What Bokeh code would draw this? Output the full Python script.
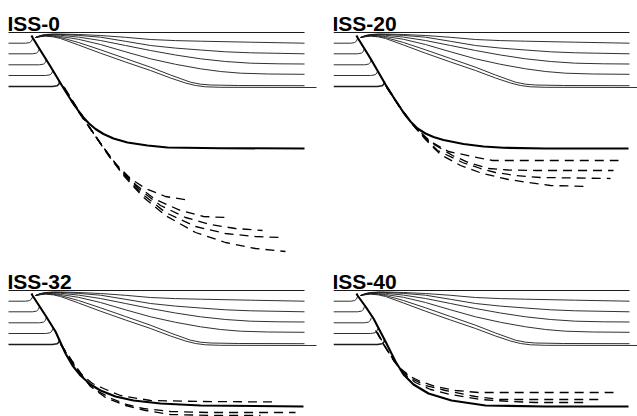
from bokeh.plotting import figure
from bokeh.layouts import column, row
from bokeh.models import Range1d
from bokeh.embed import file_html
from bokeh.resources import INLINE
from bokeh.core.properties import value

# ---- data: (distance, depth) pairs, depth grows downward ----
titles = ["ISS-0", "ISS-20", "ISS-32", "ISS-40"]

surface = [(0, 0), (296, 0)]

stub_1 = [(0, 10.7), (17, 10.7), (21, 10.1), (23, 8.6), (24.3, 5.5)]
stub_2 = [(0, 21.3), (24, 21.3), (28, 20.6), (30, 18.8), (30.9, 16)]
stub_3 = [(0, 32.3), (31, 32.3), (35, 31.6), (37, 29.8), (37.7, 27.3)]
stub_4 = [(0, 43), (37, 43), (41.5, 42.3), (43.5, 40.5), (44.2, 38)]
stub_5 = [(0, 54), (44, 54), (48.5, 53.3), (50.5, 51.5), (51, 49)]

flow_1 = [(27, 5), (32, 3), (37, 2), (45, 1.5), (52, 1.5), (70, 2), (92, 3), (117, 4.8),
          (142, 7), (167, 8.1), (192, 8.7), (242, 9.7), (296, 10.7)]
flow_2 = [(27, 5), (32, 3.2), (37, 2.3), (45, 1.8), (52, 2), (70, 2.9), (92, 4.7), (117, 8.8),
          (142, 13), (167, 15.6), (192, 17.5), (217, 19.3), (242, 20.3), (296, 21.3)]
flow_3 = [(27, 5), (32, 3.4), (37, 2.6), (45, 2.3), (52, 2.8), (70, 4.6), (92, 8), (117, 13),
          (142, 18), (167, 22.5), (192, 26.3), (217, 29), (242, 30.7), (270, 31.3), (296, 31.5)]
flow_4 = [(27, 5), (32, 3.7), (37, 3), (45, 3.1), (52, 4), (70, 6.8), (92, 12), (117, 19.3),
          (142, 26.3), (167, 31.8), (192, 36.3), (212, 39), (232, 40.7), (260, 41.5), (296, 41.8)]
flow_5 = [(27, 5), (32, 4), (37, 3.3), (45, 3.7), (52, 5), (70, 10), (92, 17.3), (117, 26),
          (142, 34.7), (162, 42.5), (182, 49.7), (192, 51.7), (202, 52.5), (230, 53), (296, 53.2)]
flow_6 = [(27, 5), (32, 4.2), (37, 3.6), (45, 4.4), (52, 6), (70, 12.5), (92, 20.7), (117, 29.5),
          (142, 38), (162, 45.5), (177, 50.5), (187, 53), (197, 54.3), (212, 54.8), (308, 55)]

# thick line per panel
thick_0 = [(23, 3), (24, 5), (32, 18), (42, 34), (54, 54), (64, 70), (70, 78.5), (75, 85), (80, 90.5),
           (87, 96.5), (95, 101.5), (105, 106), (119, 110), (139, 113), (159, 115), (212, 115.7), (296, 116)]
thick_20 = [(23, 3), (24, 5), (37, 26), (52, 52), (62, 68), (70, 80), (77, 89), (84, 96), (92, 101),
            (100, 104.5), (110, 107.5), (130, 111.5), (150, 114), (170, 115.3), (212, 116), (295, 116)]
thick_32 = [(23, 3), (24, 5), (37, 25), (47, 41), (57, 63), (64, 75), (72, 85), (82, 94), (92, 100),
            (107, 106), (125, 110), (152, 113), (192, 115), (295, 116)]
thick_40 = [(23, 3), (24, 5), (32, 16), (40, 28), (52, 51), (62, 71), (70, 84), (80, 94), (95, 103),
            (118, 110), (152, 115), (212, 116), (295, 116)]

# dashed lines per panel
dash_0_a = [(54, 54), (67, 75), (80, 94), (92, 111), (107, 131), (122, 146), (137, 156), (157, 164), (182, 168)]
dash_0_b = [(55, 54), (68, 76), (82, 96), (95, 115), (110, 135), (127, 152), (147, 167), (172, 178), (195, 184), (217, 185)]
dash_0_c = [(55, 55), (69, 77), (83, 98), (97, 118), (112, 138), (130, 156), (152, 173), (177, 185), (202, 192), (227, 196), (254, 198)]
dash_0_d = [(56, 55), (70, 78), (84, 99), (98, 120), (114, 141), (132, 160), (157, 180), (187, 194), (217, 201), (247, 204), (272, 205)]
dash_0_e = [(56, 56), (71, 79), (85, 101), (100, 123), (116, 144), (134, 164), (157, 183), (187, 200), (217, 210), (247, 216), (277, 219)]

dash_20_a = [(52, 53), (64, 71), (74, 86), (84, 97), (97, 109), (115, 119), (139, 124), (159, 128), (192, 128), (285, 128)]
dash_20_b = [(53, 54), (65, 73), (76, 88), (87, 101), (99, 111), (119, 123), (135, 130), (155, 136), (175, 137.5), (202, 138), (280, 138)]
dash_20_c = [(53, 55), (66, 74), (78, 90), (90, 104), (104, 118), (129, 130), (147, 136), (162, 140), (182, 143), (207, 145), (277, 146)]
dash_20_d = [(54, 55), (67, 75), (79, 92), (92, 107), (107, 122), (127, 133), (149, 141), (175, 147), (195, 150), (217, 153), (255, 154)]

dash_32_a = [(52, 53), (64, 71), (74, 85), (84, 93), (95, 98), (112, 105), (142, 110), (192, 111), (269, 111.5)]
dash_32_b = [(52, 54), (66, 75), (78, 91), (90, 101), (103, 108), (118, 114), (135, 118), (162, 121), (200, 122), (287, 122)]
dash_32_c = [(53, 55), (68, 78), (82, 96), (97, 107), (117, 115), (137, 120), (162, 124), (209, 125), (252, 125)]

dash_40_a = [(42, 40), (49, 52), (57, 65), (67, 78), (77, 86), (87, 91), (102, 96), (122, 100), (145, 102), (280, 102)]
dash_40_b = [(43, 41), (50, 54), (59, 68), (69, 81), (80, 89), (92, 95), (112, 100), (142, 106), (167, 109), (192, 109), (267, 109)]
dash_40_c = [(44, 42), (51, 55), (60, 70), (70, 83), (82, 92), (97, 99), (117, 104), (147, 109), (177, 111), (202, 112), (254, 112)]

stubs = [stub_1, stub_2, stub_3, stub_4]
flows = [flow_1, flow_2, flow_3, flow_4, flow_5, flow_6]
thicks = [thick_0, thick_20, thick_32, thick_40]
dashes = [[dash_0_a, dash_0_b, dash_0_c, dash_0_d, dash_0_e],
          [dash_20_a, dash_20_b, dash_20_c, dash_20_d],
          [dash_32_a, dash_32_b, dash_32_c],
          [dash_40_a, dash_40_b, dash_40_c]]


def xs_of(line):
    return [pt[0] for pt in line]


def ds_of(line):
    return [pt[1] for pt in line]


def panel(i, width, height, x_start, d_bottom):
    p = figure(width=width, height=height, output_backend="svg", toolbar_location=None,
               x_range=Range1d(x_start, x_start + width), y_range=Range1d(d_bottom, d_bottom - height),
               min_border=0, min_border_left=0, min_border_right=0,
               min_border_top=0, min_border_bottom=0)
    p.axis.visible = False
    p.grid.visible = False
    p.outline_line_color = None
    p.background_fill_color = "white"
    p.border_fill_color = "white"

    thin = "#1a1a1a"
    p.line(xs_of(surface), ds_of(surface), line_color=thin, line_width=1.0)
    p.multi_line([xs_of(s) for s in stubs], [ds_of(s) for s in stubs], line_color=thin, line_width=0.9)
    p.line(xs_of(stub_5), ds_of(stub_5), line_color=thin, line_width=1.6)
    p.multi_line([xs_of(f) for f in flows], [ds_of(f) for f in flows], line_color=thin, line_width=0.9)

    p.multi_line([xs_of(f) for f in dashes[i]], [ds_of(f) for f in dashes[i]],
                 line_color="black", line_width=1.3, line_dash="9 6")
    p.line(xs_of(thicks[i]), ds_of(thicks[i]), line_color="black", line_width=2.1)

    p.text(x=[-1], y=[-9], text=[titles[i]], text_font=value("Liberation Sans"),
           text_font_style="bold", text_font_size="21px", text_baseline="alphabetic",
           text_align="left", text_color="black")
    return p


p1 = panel(0, 333, 258, -8, 226)
p2 = panel(1, 304, 258, 0, 226)
p3 = panel(2, 333, 158, -8, 126)
p4 = panel(3, 304, 158, 0, 126)

layout = column(row(p1, p2, spacing=0), row(p3, p4, spacing=0), spacing=0)

open("out.html", "w").write(file_html(layout, INLINE))
